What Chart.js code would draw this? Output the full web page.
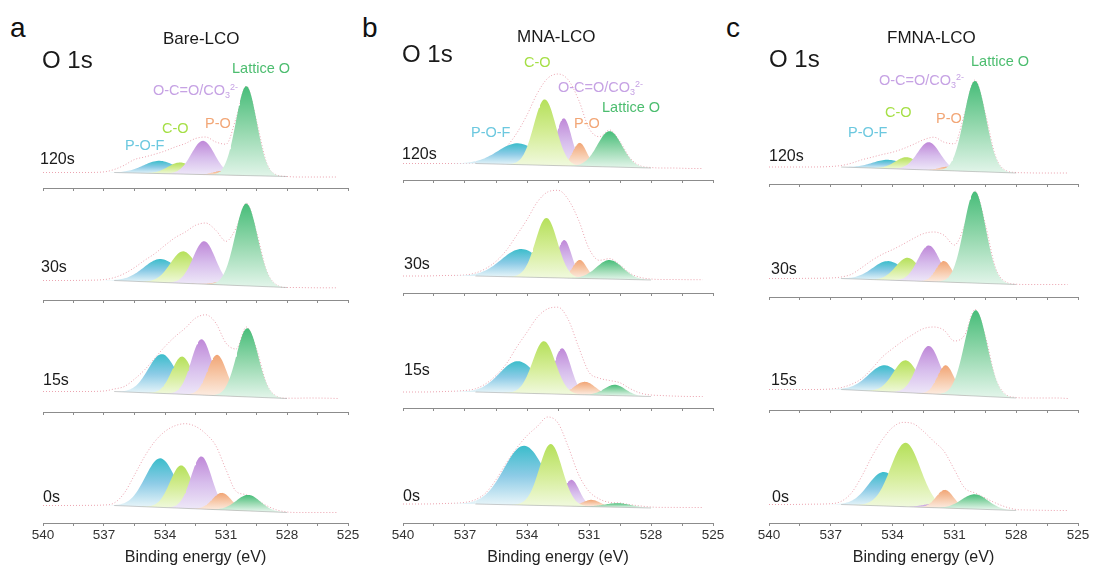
<!DOCTYPE html>
<html>
<head>
<meta charset="utf-8">
<script src="https://cdn.jsdelivr.net/npm/chart.js@4.4.1/dist/chart.umd.min.js"></script>
<style>
  html, body { margin: 0; padding: 0; background: #fff; overflow: hidden; }
  #figure { position: relative; width: 1093px; height: 570px; font-family: 'Liberation Sans', Arial, sans-serif; }
  #figure canvas { position: absolute; }
  .txt { position: absolute; white-space: nowrap; line-height: 1; }
  .sub, .sup { position: relative; font-size: 0.62em; }
  .sub { top: 0.32em; }
  .sup { top: -0.55em; }
</style>
</head>
<body>
<div id="figure"></div>
<script>
// Binding energies (eV) at which the measured O 1s envelopes are sampled
const ENERGY = [540, 539, 538, 537, 536.5, 536, 535.5, 535, 534.5, 534, 533.5, 533, 532.5,
                532, 531.5, 531, 530.5, 530, 529.5, 529, 528.5, 528, 527.5, 527, 526, 525.5];
const TIMES = ['120s', '30s', '15s', '0s'];
const COMPONENTS = ['P-O-F', 'C-O', 'O-C=O/CO3 2-', 'P-O', 'Lattice O'];
const TICK_LABELS = [540, 537, 534, 531, 528, 525];

// Bare-LCO: raw envelope per etch time, background [high BE, low BE],
// fitted components (centre eV, height, FWHM eV) in COMPONENTS order
const BARE_RAW = [
  [15.5, 15.5, 15.5, 16.1, 18.5, 22.8, 28.5, 31, 33.8, 37, 41, 44.5, 49.5, 51, 46, 43.8, 70, 102, 67, 25, 13, 11.5, 11, 11, 11, 11],
  [19.5, 19.5, 19.7, 20.4, 22.4, 26.4, 32.4, 39.7, 46.4, 54.7, 62.4, 68, 74.7, 77, 69.7, 58.7, 72, 97, 68, 29, 15, 12.5, 12.5, 12.3, 12.2, 12.2],
  [20.5, 20.5, 20.5, 21, 23, 25.5, 32.9, 42.2, 53.9, 65.5, 75.5, 83.9, 93.9, 97.2, 88.9, 68.9, 63, 85, 63, 28, 15.6, 13.8, 13.8, 14, 13.8, 13.5],
  [17.5, 17.5, 17.6, 18, 20, 30, 48, 66.6, 81.6, 91.6, 97.3, 99.3, 96.6, 89.3, 77.3, 53.3, 31.6, 28.3, 23.3, 17.3, 13, 11, 10.5, 10.5, 10.5, 10.5]
];
const BARE_BG = [[15.5, 11.5], [19.5, 12.5], [20.5, 13.5], [17.5, 10.5]];
const BARE_CENTER = [
  [534.26, 533.25, 532.13, 531.2, 530.0],
  [534.2, 533.1, 532.07, 531.2, 530.0],
  [534.15, 533.16, 532.2, 531.44, 529.95],
  [534.23, 533.2, 532.21, 531.2, 529.9]
];
const BARE_HEIGHT = [
  [12.7, 11.5, 33.7, 4, 89.4],
  [23.4, 32, 42.9, 3, 82.3],
  [39.3, 37.7, 55.8, 40.8, 68.7],
  [49, 42.8, 52.6, 17, 16]
];
const BARE_FWHM = [
  [1.9, 1.4, 1.35, 1.0, 1.2],
  [2.0, 1.5, 1.3, 1.0, 1.3],
  [1.6, 1.2, 1.2, 1.1, 1.25],
  [1.75, 1.3, 1.2, 1.1, 1.4]
];

// MNA-LCO
const MNA_RAW = [
  [16.5, 16.5, 16.5, 16.5, 17.3, 20.7, 26, 33.3, 46.7, 65, 86.7, 101.7, 106, 100, 80, 51.7, 43.3, 50, 38.3, 21.6, 14, 12.5, 12, 12, 11.5, 11.5],
  [17, 17, 17.5, 18, 20, 24.4, 31.7, 42.7, 57.7, 73.4, 91, 101, 102.7, 93.4, 72.7, 44.4, 32.7, 34.4, 28, 19.5, 15.5, 14, 13.5, 13.5, 13.3, 13.3],
  [16, 16, 16.5, 17.5, 19.2, 24.2, 32.5, 44.2, 60.8, 75.8, 90.8, 99.2, 100.8, 88.2, 60.8, 35.8, 29.8, 27.5, 25.2, 19.2, 14.8, 13, 12.5, 12, 11.5, 11.5],
  [19, 19, 19.5, 20.6, 23.3, 30, 43.3, 60, 75, 87.3, 96.6, 106, 100, 76, 48.3, 31.6, 24, 20.6, 20, 18.3, 17, 16, 15.6, 15.6, 15.5, 15.5]
];
const MNA_BG = [[16.5, 12], [17, 13], [16, 11.5], [19, 15]];
const MNA_CENTER = [
  [534.44, 533.14, 532.22, 531.45, 530.0],
  [534.27, 533.06, 532.2, 531.45, 530.0],
  [534.44, 533.18, 532.3, 531.2, 529.75],
  [534.14, 532.85, 531.85, 530.88, 529.6]
];
const MNA_HEIGHT = [
  [21.3, 65.9, 47.4, 23.3, 35.8],
  [28, 59.7, 38, 18.5, 19],
  [31.9, 52.6, 45.9, 13, 10.8],
  [59.4, 61.7, 26.4, 6.8, 4]
];
const MNA_FWHM = [
  [2.3, 1.25, 0.9, 0.8, 1.4],
  [2.3, 1.25, 0.85, 0.8, 1.5],
  [2.1, 1.3, 1.0, 1.2, 1.2],
  [2.3, 1.3, 0.9, 1.0, 1.5]
];

// FMNA-LCO
const FMNA_RAW = [
  [17, 17, 17, 17.5, 18.5, 20.8, 24.2, 26.8, 29.5, 31.8, 35.2, 39.5, 44.2, 46.8, 41.8, 40.2, 71, 104, 70.6, 27.4, 13.4, 11.5, 11.2, 11, 11, 11],
  [18.5, 18.5, 18.7, 19, 20, 22.7, 29.4, 36.7, 42.7, 47.4, 52.7, 58.4, 63.4, 65, 61.7, 52, 72, 106, 72.6, 29, 15, 12.8, 12.5, 12.5, 12.5, 12.5],
  [20.5, 20.5, 20.5, 21, 22.4, 25.7, 31.4, 41.4, 53, 61.4, 69, 75.7, 81.4, 83, 79.7, 69, 75, 100.5, 74, 31.4, 15.5, 12.5, 12, 12, 12, 11.5],
  [18.5, 18.5, 18.8, 19.3, 21.6, 30, 46.6, 66.6, 83.3, 95.6, 100.6, 99.3, 91.6, 81.6, 71.6, 53.3, 35, 30, 25, 20, 16, 13.5, 13, 12.8, 12.5, 12.5]
];
const FMNA_BG = [[17, 11], [18.5, 12.5], [20.5, 12], [18.5, 12.5]];
const FMNA_CENTER = [
  [534.21, 533.32, 532.24, 531.3, 530.0],
  [534.21, 533.27, 532.24, 531.51, 530.01],
  [534.37, 533.37, 532.24, 531.42, 529.96],
  [534.42, 533.37, 532.2, 531.46, 530.01]
];
const FMNA_HEIGHT = [
  [8.8, 12, 27.8, 4, 90.7],
  [19, 23, 36, 21, 91.7],
  [26.3, 32.3, 47.8, 29.3, 85.8],
  [34, 63.9, 3, 18.2, 14.8]
];
const FMNA_FWHM = [
  [1.8, 1.3, 1.3, 1.0, 1.25],
  [1.8, 1.35, 1.25, 0.9, 1.25],
  [1.9, 1.4, 1.3, 0.95, 1.3],
  [1.8, 1.7, 1.0, 1.0, 1.5]
];

// Background steps down between these energies
const BG_FROM = 536.5;
const BG_TO = 528;

// gradient stops (top, middle, base) and label colour per component
const FILL_STOPS = [
  ['#3bbdcb', '#8ccbe6', '#e8f5f9'],
  ['#b5e05a', '#d4ed96', '#f0f9dd'],
  ['#bf88d8', '#d7bdec', '#eee8f8'],
  ['#f1a575', '#f7c9aa', '#fcece1'],
  ['#47bd79', '#95d8ae', '#e0f4e8']
];
const LABEL_COLORS = ['#6cc8df', '#a5df45', '#c6a2e4', '#f2a676', '#4cbd6f'];
const LABEL_HTML = ['P-O-F', 'C-O', 'O-C=O/CO<span class="sub">3</span><span class="sup">2-</span>', 'P-O', 'Lattice O'];

const CHART_H = 130;   // plot height in px (1 intensity unit = 1 px)
const AXIS_BAND = 44;  // room under each axis line
const SIDE = 20;
const FONT = "'Liberation Sans', Arial, sans-serif";

const PANELS = [
  { letter: 'a', name: 'Bare-LCO', raw: BARE_RAW, bg: BARE_BG, center: BARE_CENTER, height: BARE_HEIGHT, fwhm: BARE_FWHM,
    left: 43, right: 348, axes: [188, 300, 412, 523], layers: [0, 1, 2, 3, 4],
    letterPos: [10, 38], o1sPos: [42, 68], namePos: [163, 44],
    timePos: [[40, 165], [41, 273], [43, 386], [43, 503]],
    labelPos: [[125, 150], [162, 133], [153, 95], [205, 128], [232, 73]] },
  { letter: 'b', name: 'MNA-LCO', raw: MNA_RAW, bg: MNA_BG, center: MNA_CENTER, height: MNA_HEIGHT, fwhm: MNA_FWHM,
    left: 403, right: 713, axes: [180, 293, 408, 523], layers: [0, 2, 3, 1, 4],
    letterPos: [362, 38], o1sPos: [402, 62], namePos: [517, 42],
    timePos: [[402, 160], [404, 270], [404, 376], [403, 502]],
    labelPos: [[471, 137], [524, 67], [558, 92], [574, 128], [602, 112]] },
  { letter: 'c', name: 'FMNA-LCO', raw: FMNA_RAW, bg: FMNA_BG, center: FMNA_CENTER, height: FMNA_HEIGHT, fwhm: FMNA_FWHM,
    left: 769, right: 1078, axes: [184, 297, 410, 523], layers: [0, 1, 2, 3, 4],
    letterPos: [726, 38], o1sPos: [769, 67], namePos: [887, 43],
    timePos: [[769, 162], [771, 275], [771, 386], [772, 503]],
    labelPos: [[848, 137], [885, 117], [879, 85], [936, 123], [971, 66]] }
];

const fig = document.getElementById('figure');

function addText(html, x, baseline, size, color) {
  const d = document.createElement('div');
  d.className = 'txt';
  d.innerHTML = html;
  d.style.left = x + 'px';
  d.style.top = (baseline - 0.8465 * size) + 'px';
  d.style.fontSize = size + 'px';
  d.style.color = color;
  fig.appendChild(d);
}

function bgAt(bg, e) {
  if (e >= BG_FROM) return bg[0];
  if (e <= BG_TO) return bg[1];
  return bg[1] + (bg[0] - bg[1]) * (e - BG_TO) / (BG_FROM - BG_TO);
}

// Gaussian component sitting on the background, high BE first
function componentPoints(c, h, w, bg) {
  const sigma = w / 2.3548;
  const hi = c + 3.5 * sigma, lo = c - 3.5 * sigma;
  const pts = [];
  for (let k = 0; k <= 80; k++) {
    const e = hi - (hi - lo) * k / 80;
    pts.push({ x: e, y: bgAt(bg, e) + h * Math.exp(-0.5 * ((e - c) / sigma) ** 2) });
  }
  return pts;
}

function componentFill(stops, topVal, baseVal) {
  return (ctx) => {
    const chart = ctx.chart;
    if (!chart.chartArea) return stops[0];
    const y = chart.scales.y;
    const g = chart.ctx.createLinearGradient(0, y.getPixelForValue(topVal), 0, y.getPixelForValue(baseVal));
    g.addColorStop(0, stops[0]);
    g.addColorStop(0.5, stops[1]);
    g.addColorStop(1, stops[2]);
    return g;
  };
}

function drawSpectrum(panel, row) {
  const bottomRow = row === TIMES.length - 1;
  const bg = panel.bg[row];
  const canvas = document.createElement('canvas');
  canvas.width = panel.right - panel.left + 2 * SIDE;
  canvas.height = CHART_H + AXIS_BAND;
  canvas.style.left = (panel.left - SIDE) + 'px';
  canvas.style.top = (panel.axes[row] - CHART_H) + 'px';
  fig.appendChild(canvas);

  const datasets = [
    {
      // measured envelope
      data: ENERGY.map((e, i) => ({ x: e, y: panel.raw[row][i] })),
      borderColor: 'rgba(228, 132, 148, 0.75)',
      borderWidth: 1,
      borderDash: [1, 2],
      cubicInterpolationMode: 'monotone',
      fill: false,
      order: 10
    },
    {
      // background under the fitted components
      data: [{ x: 540, y: bg[0] }, { x: BG_FROM, y: bg[0] }, { x: BG_TO, y: bg[1] }, { x: 525, y: bg[1] }],
      borderWidth: 0.8,
      borderColor: 'rgba(150, 150, 150, 0.6)',
      segment: { borderColor: (s) => (s.p0DataIndex === 1 ? 'rgba(150, 150, 150, 0.6)' : 'rgba(0, 0, 0, 0)') },
      fill: false,
      order: 0
    }
  ];

  panel.layers.forEach((k, layer) => {
    const c = panel.center[row][k], h = panel.height[row][k], w = panel.fwhm[row][k];
    if (h <= 0) return;
    const base = bgAt(bg, c);
    datasets.push({
      label: COMPONENTS[k],
      data: componentPoints(c, h, w, bg),
      borderWidth: 0,
      borderColor: 'rgba(0, 0, 0, 0)',
      backgroundColor: componentFill(FILL_STOPS[k], base + h, base),
      fill: 1,
      tension: 0,
      order: 6 - layer
    });
  });

  new Chart(canvas, {
    type: 'line',
    data: { datasets },
    options: {
      responsive: false,
      animation: false,
      events: [],
      layout: { padding: { left: SIDE, right: SIDE, top: 0, bottom: 0 } },
      elements: { point: { radius: 0 } },
      plugins: {
        legend: { display: false },
        tooltip: { enabled: false },
        filler: { drawTime: 'beforeDatasetDraw', propagate: false }
      },
      scales: {
        x: {
          type: 'linear',
          reverse: true,
          min: 525,
          max: 540,
          afterFit: (scale) => { scale.height = AXIS_BAND; },
          border: { display: true, color: '#8c8c8c', width: 1 },
          grid: { drawOnChartArea: false, drawTicks: true, tickLength: 3, tickColor: '#8c8c8c', tickWidth: 1 },
          ticks: {
            stepSize: 1.5,
            autoSkip: false,
            maxRotation: 0,
            padding: 1,
            color: '#333',
            font: { family: FONT, size: 13.5 },
            callback: (v) => {
              const r = Math.round(v);
              return bottomRow && Math.abs(v - r) < 1e-6 && TICK_LABELS.includes(r) ? String(r) : '';
            }
          },
          title: {
            display: bottomRow,
            text: 'Binding energy (eV)',
            color: '#222',
            font: { family: FONT, size: 16 },
            padding: { top: 0, bottom: 0 }
          }
        },
        y: { display: false, min: 0, max: CHART_H }
      }
    }
  });
}

PANELS.forEach((panel) => {
  TIMES.forEach((t, row) => drawSpectrum(panel, row));

  addText(panel.letter, panel.letterPos[0], panel.letterPos[1], 28, '#111');
  addText('O 1s', panel.o1sPos[0], panel.o1sPos[1], 24, '#1a1a1a');
  addText(panel.name, panel.namePos[0], panel.namePos[1], 17, '#1a1a1a');
  TIMES.forEach((t, row) => addText(t, panel.timePos[row][0], panel.timePos[row][1], 16, '#1a1a1a'));
  COMPONENTS.forEach((c, k) => addText(LABEL_HTML[k], panel.labelPos[k][0], panel.labelPos[k][1], 14.5, LABEL_COLORS[k]));
});
</script>
</body>
</html>
